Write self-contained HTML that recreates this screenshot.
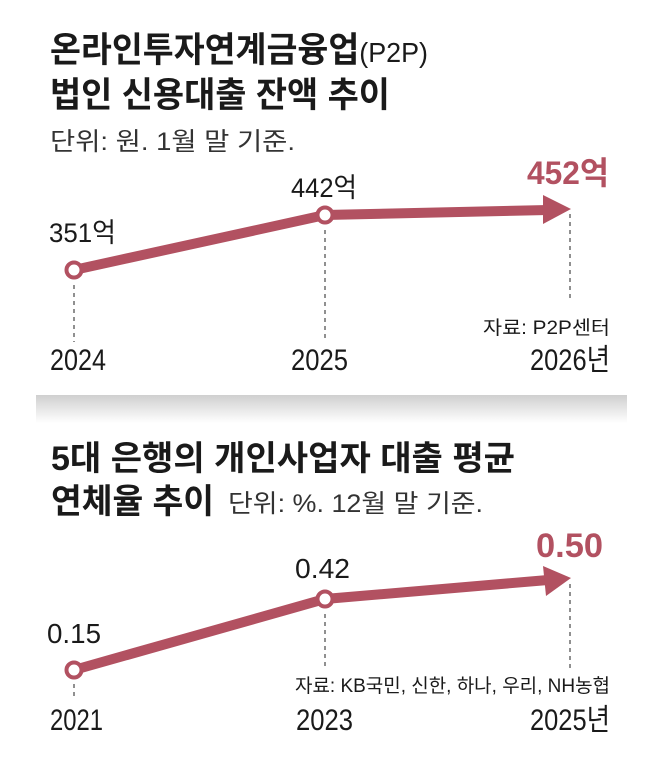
<!DOCTYPE html>
<html><head><meta charset="utf-8"><style>
html,body{margin:0;padding:0;background:#fff;}
svg{display:block;}
text{font-family:"Liberation Sans Narrow","Liberation Sans","Noto Sans CJK KR",sans-serif;fill:#1a1a1a;}
.k{font-family:"Liberation Sans","Noto Sans CJK KR",sans-serif;}
</style></head><body>
<svg width="658" height="770" viewBox="0 0 658 770" xmlns="http://www.w3.org/2000/svg">
<defs><linearGradient id="g" x1="0" y1="0" x2="0" y2="1"><stop offset="0" stop-color="#cfcfcf"/><stop offset="1" stop-color="#ffffff"/></linearGradient></defs>
<!-- top chart -->
<text class="k" x="50" y="62" font-size="35" font-weight="bold" textLength="378" lengthAdjust="spacingAndGlyphs">온라인투자연계금융업<tspan font-weight="normal" font-size="28">(P2P)</tspan></text>
<text class="k" x="50" y="107" font-size="35" font-weight="bold" textLength="340" lengthAdjust="spacingAndGlyphs">법인 신용대출 잔액 추이</text>
<text class="k" x="50" y="150" font-size="25" fill="#333" textLength="245" lengthAdjust="spacingAndGlyphs" style="fill:#333">단위: 원. 1월 말 기준.</text>
<g stroke="#222" stroke-width="1" stroke-dasharray="4,4">
<line x1="74" y1="285" x2="74" y2="342"/><line x1="325" y1="230" x2="325" y2="342"/><line x1="570" y1="214" x2="570" y2="302"/>
</g>
<polyline points="74,270 325,215 548,210" fill="none" stroke="#b25161" stroke-width="10"/>
<polygon points="543,195 571,209 543,224" fill="#b25161"/>
<circle cx="74" cy="270" r="7.5" fill="#fff" stroke="#b25161" stroke-width="4"/>
<circle cx="325" cy="215" r="7.5" fill="#fff" stroke="#b25161" stroke-width="4"/>
<text x="49" y="242" font-size="27" textLength="67" lengthAdjust="spacingAndGlyphs">351억</text>
<text x="291" y="197" font-size="27" textLength="66" lengthAdjust="spacingAndGlyphs">442억</text>
<text x="527" y="184" font-size="32" font-weight="bold" textLength="82" lengthAdjust="spacingAndGlyphs" style="fill:#b25161">452억</text>
<text x="483" y="334" font-size="19" textLength="127" lengthAdjust="spacingAndGlyphs">자료: P2P센터</text>
<text x="50" y="370" font-size="30" textLength="56" lengthAdjust="spacingAndGlyphs">2024</text>
<text x="291" y="370" font-size="30" textLength="57" lengthAdjust="spacingAndGlyphs">2025</text>
<text x="530" y="370" font-size="30" textLength="80" lengthAdjust="spacingAndGlyphs">2026년</text>
<rect x="36" y="395" width="591" height="28" fill="url(#g)"/>
<!-- bottom chart -->
<text class="k" x="51" y="470" font-size="34" font-weight="bold" textLength="464" lengthAdjust="spacingAndGlyphs">5대 은행의 개인사업자 대출 평균</text>
<text class="k" x="51" y="513" font-size="34" font-weight="bold" textLength="163" lengthAdjust="spacingAndGlyphs">연체율 추이</text>
<text class="k" x="228" y="512" font-size="25" textLength="255" lengthAdjust="spacingAndGlyphs" style="fill:#333">단위: %. 12월 말 기준.</text>
<g stroke="#222" stroke-width="1" stroke-dasharray="4,4">
<line x1="74" y1="684" x2="74" y2="698"/><line x1="325" y1="614" x2="325" y2="668"/><line x1="570" y1="584" x2="570" y2="668"/>
</g>
<polyline points="74,670 325,599 548,580" fill="none" stroke="#b25161" stroke-width="10"/>
<polygon points="543,566 571,578 546,596" fill="#b25161"/>
<circle cx="74" cy="670" r="7.5" fill="#fff" stroke="#b25161" stroke-width="4"/>
<circle cx="325" cy="599" r="7.5" fill="#fff" stroke="#b25161" stroke-width="4"/>
<text x="47" y="643" font-size="28" textLength="54" lengthAdjust="spacingAndGlyphs">0.15</text>
<text x="295" y="578" font-size="28" textLength="55" lengthAdjust="spacingAndGlyphs">0.42</text>
<text x="536" y="557" font-size="34" font-weight="bold" textLength="67" lengthAdjust="spacingAndGlyphs" style="fill:#b25161">0.50</text>
<text x="295" y="692" font-size="19" textLength="315" lengthAdjust="spacingAndGlyphs">자료: KB국민, 신한, 하나, 우리, NH농협</text>
<text x="50" y="730" font-size="30" textLength="53" lengthAdjust="spacingAndGlyphs">2021</text>
<text x="296" y="730" font-size="30" textLength="57" lengthAdjust="spacingAndGlyphs">2023</text>
<text x="530" y="730" font-size="30" textLength="80" lengthAdjust="spacingAndGlyphs">2025년</text>
</svg>
</body></html>
